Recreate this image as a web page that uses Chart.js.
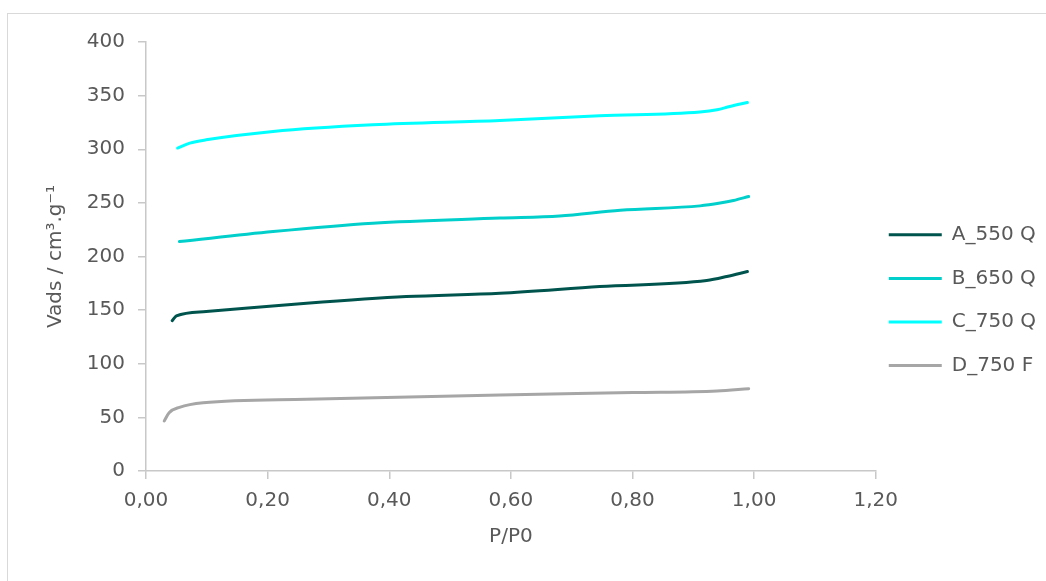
<!DOCTYPE html>
<html>
<head>
<meta charset="utf-8">
<script src="https://cdn.jsdelivr.net/npm/chart.js@4"></script>
<style>
  html, body { margin: 0; padding: 0; background: #ffffff; }
  #wrap { position: relative; width: 1046px; height: 581px; overflow: hidden; }
  #frame { position: absolute; left: 7px; top: 13px; width: 1100px; height: 700px;
           border-left: 1px solid #d9d9d9; border-top: 1px solid #d9d9d9; box-sizing: border-box; }
  #chart { position: absolute; left: 0; top: 0; }
</style>
</head>
<body>
<div id="wrap">
  <div id="frame"></div>
  <canvas id="chart" width="1046" height="581"></canvas>
</div>
<script>
// Nitrogen adsorption isotherms: relative pressure P/P0 vs adsorbed volume
const seriesNames = ['A_550 Q', 'B_650 Q', 'C_750 Q', 'D_750 F'];
const seriesColors = ['#00544E', '#00CFCB', '#00FFFF', '#A6A6A6'];

const pA = [0.043, 0.050, 0.099, 0.264, 0.428, 0.582, 0.746, 0.922, 0.955, 0.989];
const vA = [140.2, 144.6, 148.7, 156.4, 162.6, 165.8, 172.0, 177.6, 181.3, 186.0];

const pB = [0.055, 0.209, 0.373, 0.582, 0.680, 0.780, 0.911, 0.944, 0.966, 0.991];
const vB = [213.9, 223.3, 231.1, 235.8, 237.8, 243.2, 247.2, 249.8, 252.2, 255.9];

const pC = [0.052, 0.072, 0.099, 0.209, 0.373, 0.582, 0.746, 0.911, 0.939, 0.960, 0.989];
const vC = [301.1, 305.7, 308.8, 316.6, 322.8, 326.8, 331.2, 334.7, 336.8, 339.9, 343.6];

const pD = [0.030, 0.038, 0.055, 0.094, 0.264, 0.582, 0.801, 0.939, 0.991];
const vD = [46.7, 54.4, 59.4, 63.7, 66.9, 70.9, 73.1, 74.6, 76.8];

const xTickLabels = ['0,00', '0,20', '0,40', '0,60', '0,80', '1,00', '1,20'];
const yTickLabels = ['0', '50', '100', '150', '200', '250', '300', '350', '400'];

const xTitle = 'P/P0';
const yTitle = 'Vads / cm³.g⁻¹';

const textColor = '#595959';
const axisColor = '#c8c8c8';
const fontFamily = '"DejaVu Sans", sans-serif';

function toPoints(xs, ys) {
  return xs.map((x, i) => ({ x: x, y: ys[i] }));
}

const seriesData = [toPoints(pA, vA), toPoints(pB, vB), toPoints(pC, vC), toPoints(pD, vD)];

const datasets = seriesNames.map((name, i) => ({
  label: name,
  data: seriesData[i],
  borderColor: seriesColors[i],
  backgroundColor: seriesColors[i],
  borderWidth: 3,
  pointRadius: 0,
  fill: false,
  cubicInterpolationMode: 'monotone',
  borderCapStyle: 'round',
  borderJoinStyle: 'round'
}));

new Chart(document.getElementById('chart'), {
  type: 'line',
  data: { datasets: datasets },
  options: {
    responsive: false,
    animation: false,
    layout: { padding: { left: 0, top: 42, right: 0, bottom: 12 } },
    plugins: {
      tooltip: { enabled: false },
      legend: {
        position: 'right',
        align: 'center',
        labels: {
          color: textColor,
          boxWidth: 53,
          boxHeight: 3,
          padding: 13,
          font: { family: fontFamily, size: 20, lineHeight: 1.53 },
          generateLabels: (chart) => chart.data.datasets.map((ds, i) => ({
            text: [ds.label],
            fillStyle: ds.borderColor,
            strokeStyle: ds.borderColor,
            lineWidth: 0,
            hidden: false,
            fontColor: textColor,
            datasetIndex: i
          }))
        }
      }
    },
    scales: {
      x: {
        type: 'linear',
        min: 0,
        max: 1.2,
        afterFit: (scale) => { scale.height = 98; },
        border: { display: true, color: axisColor, width: 1.5 },
        grid: { drawOnChartArea: false, drawTicks: true, tickLength: 8, color: axisColor, lineWidth: 1.5 },
        ticks: {
          stepSize: 0.2,
          padding: 10,
          color: textColor,
          font: { family: fontFamily, size: 20 },
          maxRotation: 0,
          callback: (value, index) => xTickLabels[index]
        },
        title: {
          display: true,
          text: xTitle,
          color: textColor,
          font: { family: fontFamily, size: 20 },
          padding: { top: 0, bottom: 20 }
        }
      },
      y: {
        type: 'linear',
        min: 0,
        max: 400,
        afterFit: (scale) => { scale.width = 146; },
        border: { display: true, color: axisColor, width: 1.5 },
        grid: { drawOnChartArea: false, drawTicks: true, tickLength: 8, color: axisColor, lineWidth: 1.5 },
        ticks: {
          stepSize: 50,
          padding: 13,
          color: textColor,
          font: { family: fontFamily, size: 20 },
          callback: (value, index) => yTickLabels[index]
        },
        title: {
          display: true,
          text: yTitle,
          color: textColor,
          font: { family: fontFamily, size: 20 },
          padding: { top: 44, bottom: 0 }
        }
      }
    }
  }
});
</script>
</body>
</html>
